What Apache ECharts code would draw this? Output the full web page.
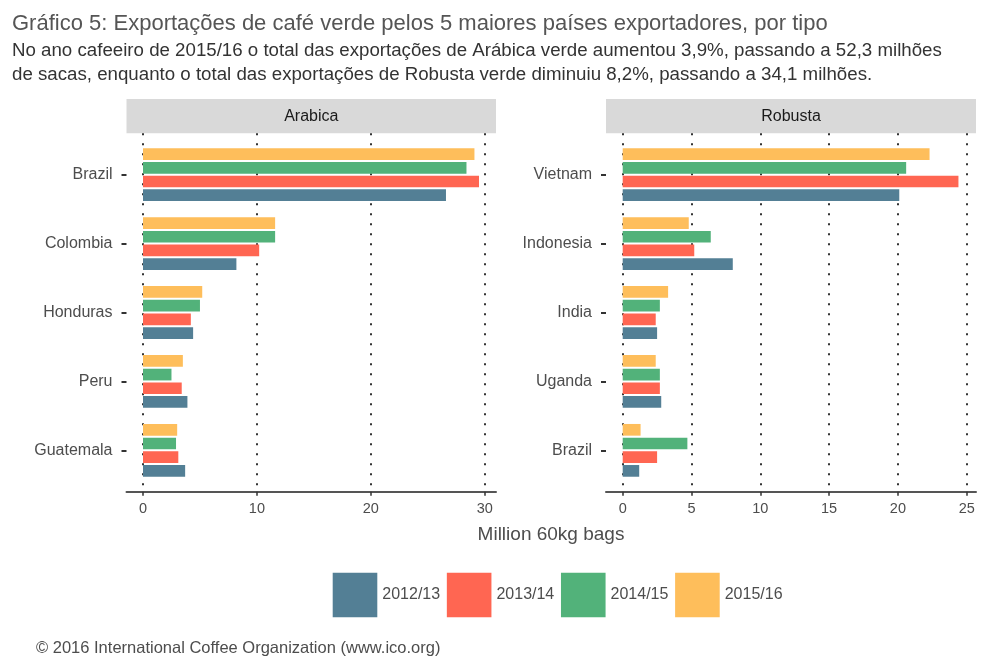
<!DOCTYPE html>
<html><head><meta charset="utf-8">
<script src="https://cdn.jsdelivr.net/npm/echarts@6/dist/echarts.min.js"></script>
<style>html,body{margin:0;padding:0;background:#fff}#c{width:989px;height:670px}</style>
</head><body><div id="c"></div>
<script>
// ---- data ----
const seasons = ['2012/13', '2013/14', '2014/15', '2015/16'];
const seasonColors = ['#537F95', '#FF6652', '#52B27A', '#FEBE5B'];

const arabicaCountries = ['Brazil', 'Colombia', 'Honduras', 'Peru', 'Guatemala'];
const arabica2012 = [26.6, 8.2, 4.4, 3.9, 3.7];
const arabica2013 = [29.5, 10.2, 4.2, 3.4, 3.1];
const arabica2014 = [28.4, 11.6, 5.0, 2.5, 2.9];
const arabica2015 = [29.1, 11.6, 5.2, 3.5, 3.0];

const robustaCountries = ['Vietnam', 'Indonesia', 'India', 'Uganda', 'Brazil'];
const robusta2012 = [20.1, 8.0, 2.5, 2.8, 1.2];
const robusta2013 = [24.4, 5.2, 2.4, 2.7, 2.5];
const robusta2014 = [20.6, 6.4, 2.7, 2.7, 4.7];
const robusta2015 = [22.3, 4.8, 3.3, 2.4, 1.3];

const arabicaTicks = [0, 10, 20, 30];
const robustaTicks = [0, 5, 10, 15, 20, 25];

const titleText = 'Gráfico 5: Exportações de café verde pelos 5 maiores países exportadores, por tipo';
const subtitleText = 'No ano cafeeiro de 2015/16 o total das exportações de Arábica verde aumentou 3,9%, passando a 52,3 milhões\nde sacas, enquanto o total das exportações de Robusta verde diminuiu 8,2%, passando a 34,1 milhões.';
const xTitle = 'Million 60kg bags';
const footerText = '© 2016 International Coffee Organization (www.ico.org)';

// ---- layout ----
const FONT = '"Liberation Sans", Arial, Helvetica, sans-serif';
const TXT = '#4d4d4d';
const panelTop = 133.3, panelH = 358.4;
const band = panelH / 5.2;
const barsTop = panelTop + 0.1 * band, barsH = 5 * band;

const panels = [
  { name: 'Arabica', cats: arabicaCountries, vals: [arabica2012, arabica2013, arabica2014, arabica2015],
    ticks: arabicaTicks, left: 126.5, width: 369.5, zeroX: 143, axisW: 341.7 },
  { name: 'Robusta', cats: robustaCountries, vals: [robusta2012, robusta2013, robusta2014, robusta2015],
    ticks: robustaTicks, left: 606, width: 370, zeroX: 622.7, axisW: 344 }
];

const grids = [], xAxes = [], yAxes = [], series = [], graphics = [];
panels.forEach((p, pi) => {
  const tMin = p.ticks[0], tMax = p.ticks[p.ticks.length - 1], tInt = p.ticks[1] - p.ticks[0];
  const pxPerUnit = p.axisW / (tMax - tMin);
  const fullMin = tMin - (p.zeroX - p.left) / pxPerUnit;
  const fullMax = fullMin + p.width / pxPerUnit;
  // grid: bars, full panel width
  grids.push({ left: p.left, top: barsTop, width: p.width, height: barsH, outerBoundsMode: 'none', containLabel: false });
  // grid: gridlines + tick labels
  grids.push({ left: p.zeroX, top: panelTop, width: p.axisW, height: panelH, outerBoundsMode: 'none', containLabel: false });
  // grid: full-width axis line
  grids.push({ left: p.left, top: panelTop, width: p.width, height: panelH, outerBoundsMode: 'none', containLabel: false });
  const g0 = pi * 3;
  xAxes.push({ gridIndex: g0, type: 'value', min: fullMin, max: fullMax, show: false });
  xAxes.push({ gridIndex: g0 + 1, type: 'value', min: tMin, max: tMax, interval: tInt,
    axisLine: { show: false, onZero: false },
    axisTick: { show: true, length: 4, lineStyle: { color: '#333', width: 1.5 } },
    axisLabel: { show: true, margin: 10, fontSize: 14.5, color: TXT, fontFamily: FONT },
    splitLine: { show: true, lineStyle: { color: '#333', width: 2, type: [2, 8] } } });
  xAxes.push({ gridIndex: g0 + 2, type: 'value', min: 0, max: 1,
    axisLine: { show: true, onZero: false, lineStyle: { color: '#555', width: 2 } },
    axisTick: { show: false }, axisLabel: { show: false }, splitLine: { show: false } });
  yAxes.push({ gridIndex: g0, type: 'category', data: p.cats, inverse: true,
    axisLine: { show: false, onZero: false },
    axisTick: { show: true, alignWithLabel: true, length: 5, lineStyle: { color: '#333', width: 2 } },
    axisLabel: { show: true, margin: 14, fontSize: 16, color: TXT, fontFamily: FONT } });
  yAxes.push({ gridIndex: g0 + 1, type: 'value', show: false });
  yAxes.push({ gridIndex: g0 + 2, type: 'value', show: false });
  // first series is drawn at the top of each group: add newest season first
  for (let si = p.vals.length - 1; si >= 0; si--) {
    series.push({ type: 'bar', name: seasons[si], xAxisIndex: g0, yAxisIndex: g0, data: p.vals[si],
      barWidth: 11.7, barGap: '17%', itemStyle: { color: seasonColors[si] }, emphasis: { disabled: true } });
  }
  graphics.push({ type: 'rect', shape: { x: p.left, y: 99, width: p.width, height: panelTop - 99 },
    style: { fill: '#d9d9d9' }, silent: true });
  graphics.push({ type: 'text', x: p.left + p.width / 2, y: 116.5,
    style: { text: p.name, fill: '#1a1a1a', font: '16px ' + FONT, textAlign: 'center', textVerticalAlign: 'middle' } });
});

graphics.push({ type: 'text', x: 551, y: 535,
  style: { text: xTitle, fill: TXT, font: '19px ' + FONT, textAlign: 'center', textVerticalAlign: 'middle' } });
graphics.push({ type: 'text', x: 36, y: 648,
  style: { text: footerText, fill: TXT, font: '16.5px ' + FONT, textAlign: 'left', textVerticalAlign: 'middle' } });

const option = {
  animation: false,
  backgroundColor: '#fff',
  title: [
    { text: titleText, left: 12, top: 12.5, padding: 0,
      textStyle: { fontSize: 22, fontWeight: 'normal', color: '#555', fontFamily: FONT } },
    { text: subtitleText, left: 12, top: 38.6, padding: 0,
      textStyle: { fontSize: 18.7, fontWeight: 'normal', color: '#333', fontFamily: FONT, lineHeight: 24.4 } }
  ],
  legend: {
    data: seasons.map((s, i) => ({ name: s, itemStyle: { color: seasonColors[i] } })),
    left: 332.7, top: 572.7, icon: 'rect', itemWidth: 44.6, itemHeight: 44.6, itemGap: 6.7, padding: 0,
    textStyle: { fontSize: 16, color: TXT, fontFamily: FONT }
  },
  grid: grids, xAxis: xAxes, yAxis: yAxes, series: series, graphic: graphics
};
const chart = echarts.init(document.getElementById('c'), null, { renderer: 'canvas' });
chart.setOption(option);
</script></body></html>
